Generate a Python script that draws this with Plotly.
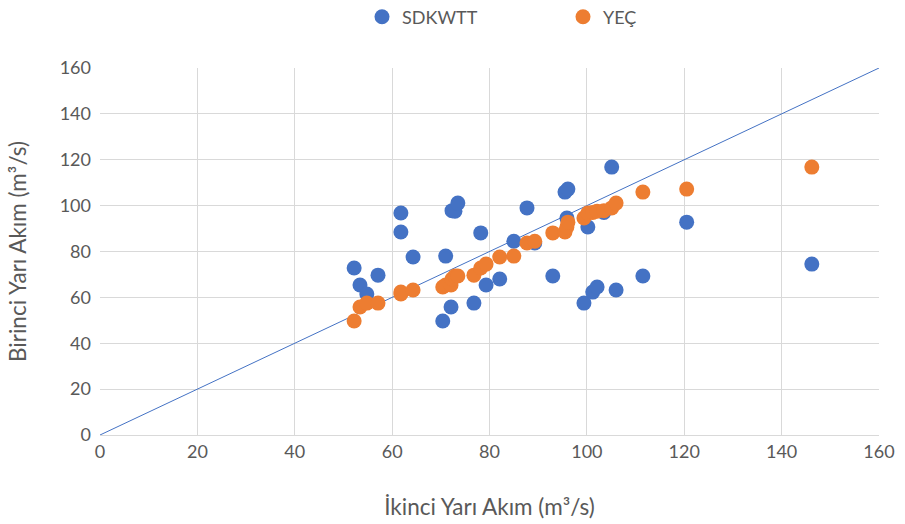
import plotly.graph_objects as go

# SDKWTT (blue) points
sdk_x = [52.2, 53.4, 54.8, 57.1, 61.8, 61.8, 64.3, 70.4, 71.0, 72.1, 72.3, 72.9, 73.5, 76.8,
         78.2, 79.3, 82.1, 85.0, 87.7, 89.3, 93.0, 95.5, 96.1, 95.9, 99.4, 100.2, 101.2, 102.1,
         103.5, 105.1, 106.0, 111.5, 120.5, 146.2]
sdk_y = [72.8, 65.4, 61.5, 69.7, 96.8, 88.5, 77.6, 49.7, 78.0, 55.8, 97.8, 97.6, 101.1, 57.5,
         88.1, 65.4, 68.0, 84.5, 99.0, 83.7, 69.3, 105.9, 107.2, 94.6, 57.5, 90.7, 62.3, 64.5,
         97.0, 116.8, 63.2, 69.3, 92.8, 74.5]

# YEÇ (orange) points
yec_x = [52.2, 53.4, 54.8, 57.1, 61.8, 61.8, 64.3, 70.4, 71.0, 72.1, 72.3, 72.9, 73.5, 76.8,
         78.2, 79.3, 82.1, 85.0, 87.7, 89.3, 93.0, 95.5, 95.9, 96.1, 99.4, 100.2, 101.2, 102.1,
         103.5, 105.1, 106.0, 111.5, 120.5, 146.2]
yec_y = [49.7, 55.8, 57.5, 57.5, 61.5, 62.3, 63.2, 64.5, 65.4, 65.4, 68.0, 69.3, 69.3, 69.7,
         72.8, 74.5, 77.6, 78.0, 83.7, 84.5, 88.1, 88.5, 90.7, 92.8, 94.6, 96.8, 97.0, 97.6,
         97.8, 99.0, 101.1, 105.9, 107.2, 116.8]

line_x = [0, 160]
line_y = [0, 160]
ticks = [0, 20, 40, 60, 80, 100, 120, 140, 160]

FONT = "Lato, 'Open Sans', sans-serif"
GRAY = "#595959"

fig = go.Figure()
fig.add_trace(go.Scatter(x=line_x, y=line_y, mode="lines", showlegend=False,
                         line=dict(color="#4472C4", width=1), hoverinfo="skip"))
fig.add_trace(go.Scatter(x=sdk_x, y=sdk_y, mode="markers", name="SDKWTT",
                         marker=dict(color="#4472C4", size=15, line=dict(width=0))))
fig.add_trace(go.Scatter(x=yec_x, y=yec_y, mode="markers", name="YEÇ",
                         marker=dict(color="#ED7D31", size=15, line=dict(width=0))))

fig.update_layout(
    width=905, height=524,
    margin=dict(l=100, r=26, t=68, b=89, autoexpand=False),
    paper_bgcolor="white", plot_bgcolor="white",
    font=dict(family=FONT, color=GRAY, size=16),
    legend=dict(orientation="h", x=362 / 905, xanchor="left", xref="container",
                y=1 - 17 / 524, yanchor="middle", yref="container",
                font=dict(size=18, color=GRAY),
                itemsizing="trace", itemwidth=30,
                entrywidth=156, entrywidthmode="pixels"),
    xaxis=dict(range=[0, 160], tickvals=ticks, showgrid=True, gridcolor="#D9D9D9",
               gridwidth=1, zeroline=False, showline=True, linecolor="#D9D9D9",
               ticks="", tickfont=dict(size=18, color=GRAY), automargin=False,
               title=dict(text="İkinci Yarı Akım (m³/s)", font=dict(size=22.5, color=GRAY),
                          standoff=38)),
    yaxis=dict(range=[0, 160], tickvals=ticks, showgrid=True, gridcolor="#D9D9D9",
               gridwidth=1, zeroline=False, showline=False, automargin=False,
               ticks="", ticklabelstandoff=8, tickfont=dict(size=18, color=GRAY),
               title=dict(text="Birinci Yarı Akım (m³/s)", font=dict(size=22.5, color=GRAY),
                          standoff=26)),
)

fig.write_html("out.html", config={"displayModeBar": False},
               post_script="document.body.style.margin='0';")
